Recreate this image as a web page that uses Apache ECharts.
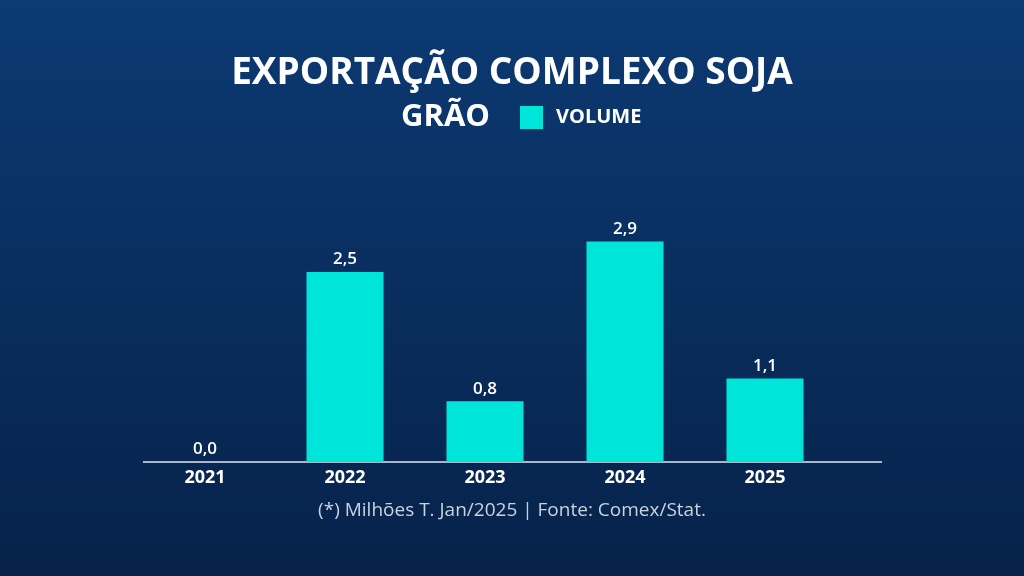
<!DOCTYPE html>
<html>
<head>
<meta charset="utf-8">
<script src="https://cdn.jsdelivr.net/npm/echarts@6/dist/echarts.min.js"></script>
<style>
  html, body { margin: 0; padding: 0; }
  #chart { width: 1024px; height: 576px; }
</style>
</head>
<body>
<div id="chart"></div>
<script>
// exportação complexo soja - grão, volume (milhões t)
var anos = ['2021', '2022', '2023', '2024', '2025'];
var volume = [0.0, 2.5, 0.8, 2.9, 1.1];

var myChart = echarts.init(document.getElementById('chart'));

function virgula(v) {
	return v.toFixed(1).replace('.', ',');
}

var option = {
	backgroundColor: {
		type: 'linear', x: 0, y: 0, x2: 0, y2: 1,
		colorStops: [
			{ offset: 0, color: '#0c3a73' },
			{ offset: 1, color: '#06224a' }
		]
	},
	title: [{
		text: 'EXPORTAÇÃO COMPLEXO SOJA',
		left: 'center',
		top: 50,
		textStyle: { color: '#ffffff', fontFamily: 'Open Sans', fontWeight: 'bold', fontSize: 37 }
	}, {
		text: 'GRÃO',
		left: 396,
		top: 97,
		textStyle: { color: '#ffffff', fontFamily: 'Open Sans', fontWeight: 'bold', fontSize: 31 }
	}],
	legend: {
		left: 515,
		top: 101,
		itemWidth: 23,
		itemHeight: 23,
		itemGap: 10,
		icon: 'rect',
		data: ['VOLUME'],
		textStyle: { color: '#ffffff', fontFamily: 'Open Sans', fontWeight: 'bold', fontSize: 20, padding: [0, 0, 0, 8] }
	},
	grid: { left: 135, top: 158, width: 700, height: 304 },
	xAxis: {
		type: 'category',
		data: anos,
		axisLine: { show: false },
		axisTick: { show: false },
		axisLabel: { color: '#ffffff', fontFamily: 'Open Sans', fontWeight: 'bold', fontSize: 18, margin: 7 }
	},
	yAxis: {
		type: 'value',
		min: 0,
		max: 4,
		show: false,
		splitLine: { show: false }
	},
	graphic: [{
		type: 'line',
		shape: { x1: 143, y1: 462, x2: 882, y2: 462 },
		style: { stroke: '#dfe8f2', lineWidth: 1.5 }
	}, {
		type: 'text',
		left: 'center',
		top: 501,
		style: {
			text: '(*) Milhões T. Jan/2025 | Fonte: Comex/Stat.',
			fill: '#c9d3df',
			font: '19px "Open Sans"'
		}
	}],
	series: [{
		name: 'VOLUME',
		type: 'bar',
		data: volume,
		barWidth: 77,
		itemStyle: { color: '#00e5d9' },
		label: {
			show: true,
			position: 'top',
			distance: 4,
			color: '#ffffff',
			fontFamily: 'Open Sans',
			fontWeight: 600,
			fontSize: 17,
			formatter: function (p) { return virgula(p.value); }
		}
	}]
};

myChart.setOption(option);
</script>
</body>
</html>
